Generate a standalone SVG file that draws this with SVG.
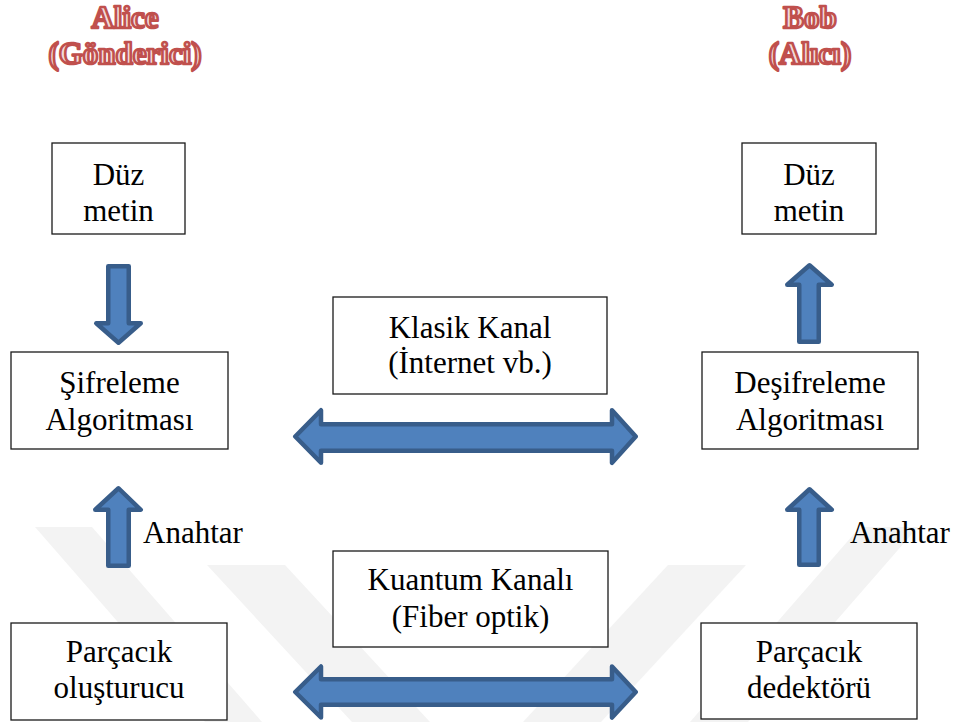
<svg xmlns="http://www.w3.org/2000/svg" width="953" height="722" viewBox="0 0 953 722">
<style>
.box{fill:#fff;stroke:#1a1a1a;stroke-width:1.3}
.t{font-family:"Liberation Serif","Times New Roman",serif;font-size:31px;fill:#000}
.c{text-anchor:middle}
.title{font-family:"Liberation Serif","Times New Roman",serif;font-size:31px;font-weight:bold;text-anchor:middle;fill:#f2dcdb;stroke:#c0504d;stroke-width:2.6;stroke-linejoin:round}
.arr{fill:#4f81bd;stroke:#385d8a;stroke-width:4.5;stroke-linejoin:round}
.wm{fill:#f3f3f3}
</style>
<rect width="953" height="722" fill="#fff"/>
<g id="watermark">
<polygon class="wm" points="35,527 92,527 262,722 205,722"/>
<polygon class="wm" points="207,565 285,565 430,722 352,722"/>
<polygon class="wm" points="918,527 860,527 690,722 748,722"/>
<polygon class="wm" points="746,565 668,565 523,722 601,722"/>
</g>
<g id="connectors">
<path id="arrow-plain-to-enc" class="arr" d="M108.25,266.25 H128.75 V323.25 H140.75 L118.5,342.75 L96.25,323.25 H108.25 Z"/>
<path id="arrow-dec-to-plain" class="arr" d="M799.25,341.75 V284.75 H787.25 L809.5,265.25 L831.75,284.75 H818.75 V341.75 Z"/>
<path id="arrow-key-left" class="arr" d="M108.25,565.75 V509.75 H95.25 L118.5,488.25 L140.75,509.75 H128.75 V565.75 Z"/>
<path id="arrow-key-right" class="arr" d="M799.25,564.75 V509.75 H787.25 L809.5,489.25 L831.75,509.75 H818.75 V564.75 Z"/>
<path id="arrow-classic" class="arr" d="M295.25,436.5 L321,410.25 V424.25 H612 V410.25 L635.75,436.5 L612,462.75 V450.75 H321 V462.75 Z"/>
<path id="arrow-quantum" class="arr" d="M295.25,692 L321,666.5 V679.25 H612 V666.5 L635.75,692 L612,717.5 V704.75 H321 V717.5 Z"/>
</g>
<g id="title-alice">
<text class="title" x="125" y="28">Alice</text>
<text class="title" x="125" y="64">(Gönderici)</text>
</g>
<g id="title-bob">
<text class="title" x="810" y="28">Bob</text>
<text class="title" x="810" y="64">(Alıcı)</text>
</g>
<g id="node-plain-left">
<rect class="box" x="52" y="143" width="133" height="91"/>
<text class="t c" x="118.5" y="185">Düz</text>
<text class="t c" x="118.5" y="221">metin</text>
</g>
<g id="node-plain-right">
<rect class="box" x="742" y="143" width="134" height="91"/>
<text class="t c" x="809" y="185">Düz</text>
<text class="t c" x="809" y="221">metin</text>
</g>
<g id="node-encrypt">
<rect class="box" x="11" y="352" width="217" height="97"/>
<text class="t c" x="119.5" y="393">Şifreleme</text>
<text class="t c" x="119.5" y="430">Algoritması</text>
</g>
<g id="node-decrypt">
<rect class="box" x="702" y="352" width="216" height="97"/>
<text class="t c" x="810" y="393">Deşifreleme</text>
<text class="t c" x="810" y="430">Algoritması</text>
</g>
<g id="node-classic">
<rect class="box" x="333" y="297" width="274" height="97"/>
<text class="t c" x="470" y="338">Klasik Kanal</text>
<text class="t c" x="470" y="373">(İnternet vb.)</text>
</g>
<g id="node-quantum">
<rect class="box" x="333" y="551" width="275" height="96"/>
<text class="t c" x="470.5" y="590">Kuantum Kanalı</text>
<text class="t c" x="470.5" y="627">(Fiber optik)</text>
</g>
<g id="node-source">
<rect class="box" x="11" y="623" width="216" height="97"/>
<text class="t c" x="119" y="662">Parçacık</text>
<text class="t c" x="119" y="698">oluşturucu</text>
</g>
<g id="node-detector">
<rect class="box" x="701" y="623" width="216" height="96"/>
<text class="t c" x="809" y="662">Parçacık</text>
<text class="t c" x="809" y="698">dedektörü</text>
</g>
<g id="labels">
<text class="t" x="143" y="543">Anahtar</text>
<text class="t" x="850" y="543">Anahtar</text>
</g>
</svg>
